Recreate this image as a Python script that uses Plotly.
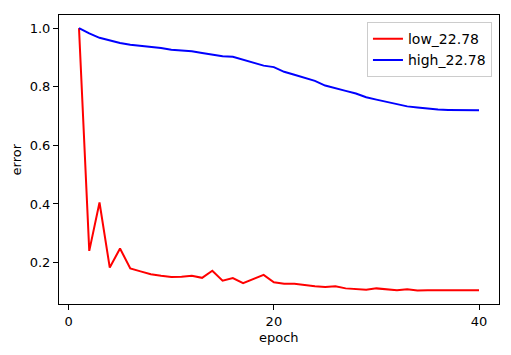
import plotly.graph_objects as go

epochs = list(range(1, 41))
low_22_78 = [1.0, 0.24, 0.405, 0.183, 0.248, 0.18, 0.17, 0.16, 0.155, 0.151,
             0.152, 0.155, 0.148, 0.172, 0.138, 0.147, 0.13, 0.143, 0.158, 0.133,
             0.128, 0.128, 0.123, 0.119, 0.117, 0.119, 0.112, 0.11, 0.107, 0.112,
             0.109, 0.106, 0.109, 0.105, 0.106, 0.106, 0.107, 0.107, 0.106, 0.106]
high_22_78 = [1.0, 0.982, 0.967, 0.957, 0.949, 0.943, 0.94, 0.935, 0.932, 0.926,
              0.924, 0.921, 0.915, 0.909, 0.904, 0.902, 0.892, 0.882, 0.872, 0.867,
              0.851, 0.841, 0.830, 0.820, 0.804, 0.794, 0.786, 0.777, 0.764, 0.756,
              0.748, 0.740, 0.733, 0.729, 0.725, 0.722, 0.721, 0.720, 0.720, 0.720]
x_ticks = [0, 20, 40]
y_ticks = [0.2, 0.4, 0.6, 0.8, 1.0]

font = "DejaVu Sans"
fig = go.Figure()
fig.add_trace(go.Scatter(x=epochs, y=low_22_78, mode="lines", name="low_22.78",
                         line=dict(color="red", width=2)))
fig.add_trace(go.Scatter(x=epochs, y=high_22_78, mode="lines", name="high_22.78",
                         line=dict(color="blue", width=2)))

axis_common = dict(showline=True, linecolor="black", linewidth=1, mirror=True,
                   ticks="outside", ticklen=5, tickwidth=1, tickcolor="black",
                   showgrid=False, zeroline=False, automargin=False,
                   tickfont=dict(family=font, size=13, color="black"))
fig.update_xaxes(range=[-0.95, 41.95], tickvals=x_ticks,
                 ticktext=[str(v) for v in x_ticks], **axis_common)
fig.update_yaxes(range=[0.0587, 1.0448], tickvals=y_ticks,
                 ticktext=[f"{v:.1f}" for v in y_ticks], **axis_common)
fig.add_annotation(text="epoch", xref="paper", yref="paper", x=0.5, y=-0.1176,
                   xanchor="center", yanchor="middle", showarrow=False,
                   font=dict(family=font, size=13, color="black"))
fig.add_annotation(text="error", xref="paper", yref="paper", x=-0.0955, y=0.5,
                   xanchor="center", yanchor="middle", showarrow=False, textangle=-90,
                   font=dict(family=font, size=13, color="black"))
fig.update_layout(
    width=511, height=355,
    margin=dict(l=59, r=12, t=15, b=51),
    paper_bgcolor="white", plot_bgcolor="white",
    font=dict(family=font, size=13, color="black"),
    legend=dict(x=0.984, y=0.975, xanchor="right", yanchor="top",
                bgcolor="rgba(255,255,255,0.8)", bordercolor="#cccccc", borderwidth=1,
                font=dict(family=font, size=14, color="black"),
                tracegroupgap=0, itemwidth=30),
    showlegend=True,
)
fig.write_html("out.html", config={"displayModeBar": False},
               post_script="document.body.style.margin='0';document.body.style.padding='0';")
